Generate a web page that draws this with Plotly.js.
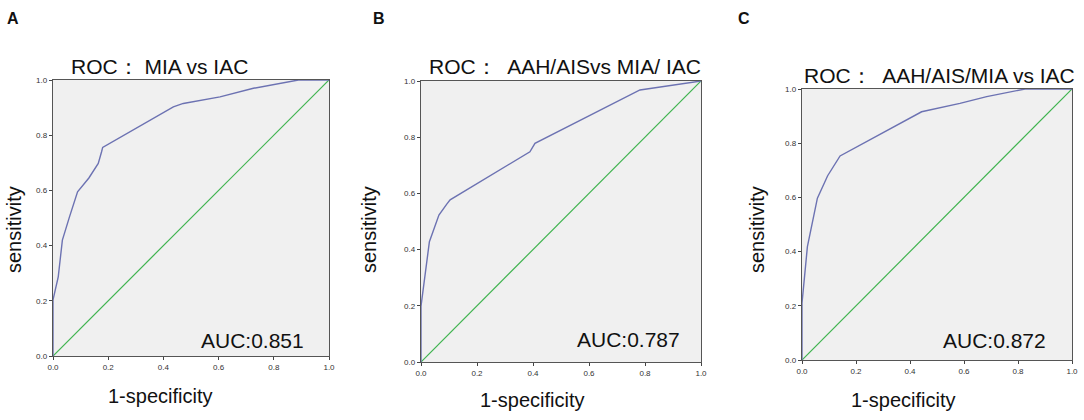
<!DOCTYPE html>
<html>
<head>
<meta charset="utf-8">
<script src="https://cdn.plot.ly/plotly-3.0.1.min.js"></script>
<style>
  html, body { margin: 0; padding: 0; background: #fff; }
  #chart { width: 1084px; height: 420px; }
</style>
</head>
<body>
<div id="chart"></div>
<script>
// ROC points (1-specificity, sensitivity)
const fprA = [0, 0, 0.019, 0.034, 0.06, 0.089, 0.13, 0.164, 0.176, 0.18, 0.436, 0.472, 0.605, 0.726, 0.889, 1.0];
const tprA = [0, 0.203, 0.287, 0.42, 0.505, 0.595, 0.645, 0.698, 0.74, 0.756, 0.903, 0.915, 0.939, 0.97, 1.0, 1.0];

const fprB = [0, 0, 0.03, 0.064, 0.092, 0.104, 0.389, 0.407, 0.782, 1.0];
const tprB = [0, 0.199, 0.428, 0.523, 0.562, 0.577, 0.748, 0.778, 0.968, 1.0];

const fprC = [0, 0, 0.02, 0.057, 0.095, 0.141, 0.443, 0.585, 0.684, 0.826, 1.0];
const tprC = [0, 0.21, 0.418, 0.597, 0.68, 0.753, 0.916, 0.947, 0.972, 1.0, 1.0];

const refLine = [0, 1];

const panelLetters = ['A', 'B', 'C'];
const panelTitles = ['ROC： MIA vs IAC', 'ROC：  AAH/AISvs MIA/ IAC', 'ROC：  AAH/AIS/MIA vs IAC'];
const aucLabels = ['AUC:0.851', 'AUC:0.787', 'AUC:0.872'];
const tickVals = [0, 0.2, 0.4, 0.6, 0.8, 1.0];
const tickText = ['0.0', '0.2', '0.4', '0.6', '0.8', '1.0'];

const W = 1084, H = 420;
const curveColor = '#6c72b2';
const diagColor = '#3fb34f';

// plot boxes in pixels: [left, right, top, bottom]
const boxes = [
  [53, 329, 80, 356],
  [421, 701, 81, 362],
  [802, 1072, 89, 360]
];

const px = x => x / W;
const py = y => 1 - y / H;

const curves = [[fprA, tprA], [fprB, tprB], [fprC, tprC]];

let traces = [];
curves.forEach(([fx, fy], i) => {
  const ax = i === 0 ? '' : String(i + 1);
  traces.push({
    x: refLine, y: refLine, xaxis: 'x' + ax, yaxis: 'y' + ax,
    mode: 'lines', line: {color: diagColor, width: 1.2},
    hoverinfo: 'skip'
  });
  traces.push({
    x: fx, y: fy, xaxis: 'x' + ax, yaxis: 'y' + ax,
    mode: 'lines', line: {color: curveColor, width: 1.4}
  });
});

function axisBase() {
  return {
    range: [0, 1],
    tickvals: tickVals,
    ticktext: tickText,
    ticks: 'outside',
    ticklen: 3,
    tickcolor: '#444',
    tickfont: {family: 'Liberation Sans, Arial, sans-serif', size: 8, color: '#333'},
    showgrid: false,
    zeroline: false,
    showline: true,
    mirror: true,
    linecolor: '#555',
    linewidth: 1.3,
    fixedrange: true
  };
}

let layout = {
  width: W,
  height: H,
  margin: {l: 0, r: 0, t: 0, b: 0},
  paper_bgcolor: '#ffffff',
  plot_bgcolor: '#f0f0f0',
  showlegend: false,
  annotations: [],
  font: {family: 'Liberation Sans, Arial, sans-serif', color: '#111'}
};

boxes.forEach(([l, r, t, b], i) => {
  const ax = i === 0 ? '' : String(i + 1);
  layout['xaxis' + ax] = Object.assign(axisBase(), {
    domain: [px(l), px(r)], anchor: 'y' + ax
  });
  layout['yaxis' + ax] = Object.assign(axisBase(), {
    domain: [py(b), py(t)], anchor: 'x' + ax
  });
});

// text positions in pixels
const letterPos = [[13, 19], [379, 19], [744, 19]];
const titlePos = [[159, 66], [565, 66], [939, 75]];
const aucPos = [[252, 340], [628, 339], [995, 340]];
const xlabPos = [[160, 396], [532, 400], [903, 400]];
const ylabPos = [[14, 230], [369, 230], [757, 230]];

const txt = (text, x, y, size, extra) => Object.assign({
  text: text, x: px(x), y: py(y), xref: 'paper', yref: 'paper',
  xanchor: 'center', yanchor: 'middle', showarrow: false,
  font: {family: 'Liberation Sans, Arial, sans-serif', size: size, color: '#111'}
}, extra || {});

for (let i = 0; i < 3; i++) {
  layout.annotations.push(txt('<b>' + panelLetters[i] + '</b>', letterPos[i][0], letterPos[i][1], 16));
  layout.annotations.push(txt(panelTitles[i], titlePos[i][0], titlePos[i][1], 21));
  layout.annotations.push(txt(aucLabels[i], aucPos[i][0], aucPos[i][1], 21));
  layout.annotations.push(txt('1-specificity', xlabPos[i][0], xlabPos[i][1], 20));
  layout.annotations.push(txt('sensitivity', ylabPos[i][0], ylabPos[i][1], 20, {textangle: -90}));
}

Plotly.newPlot('chart', traces, layout, {displayModeBar: false, staticPlot: true});
</script>
</body>
</html>
